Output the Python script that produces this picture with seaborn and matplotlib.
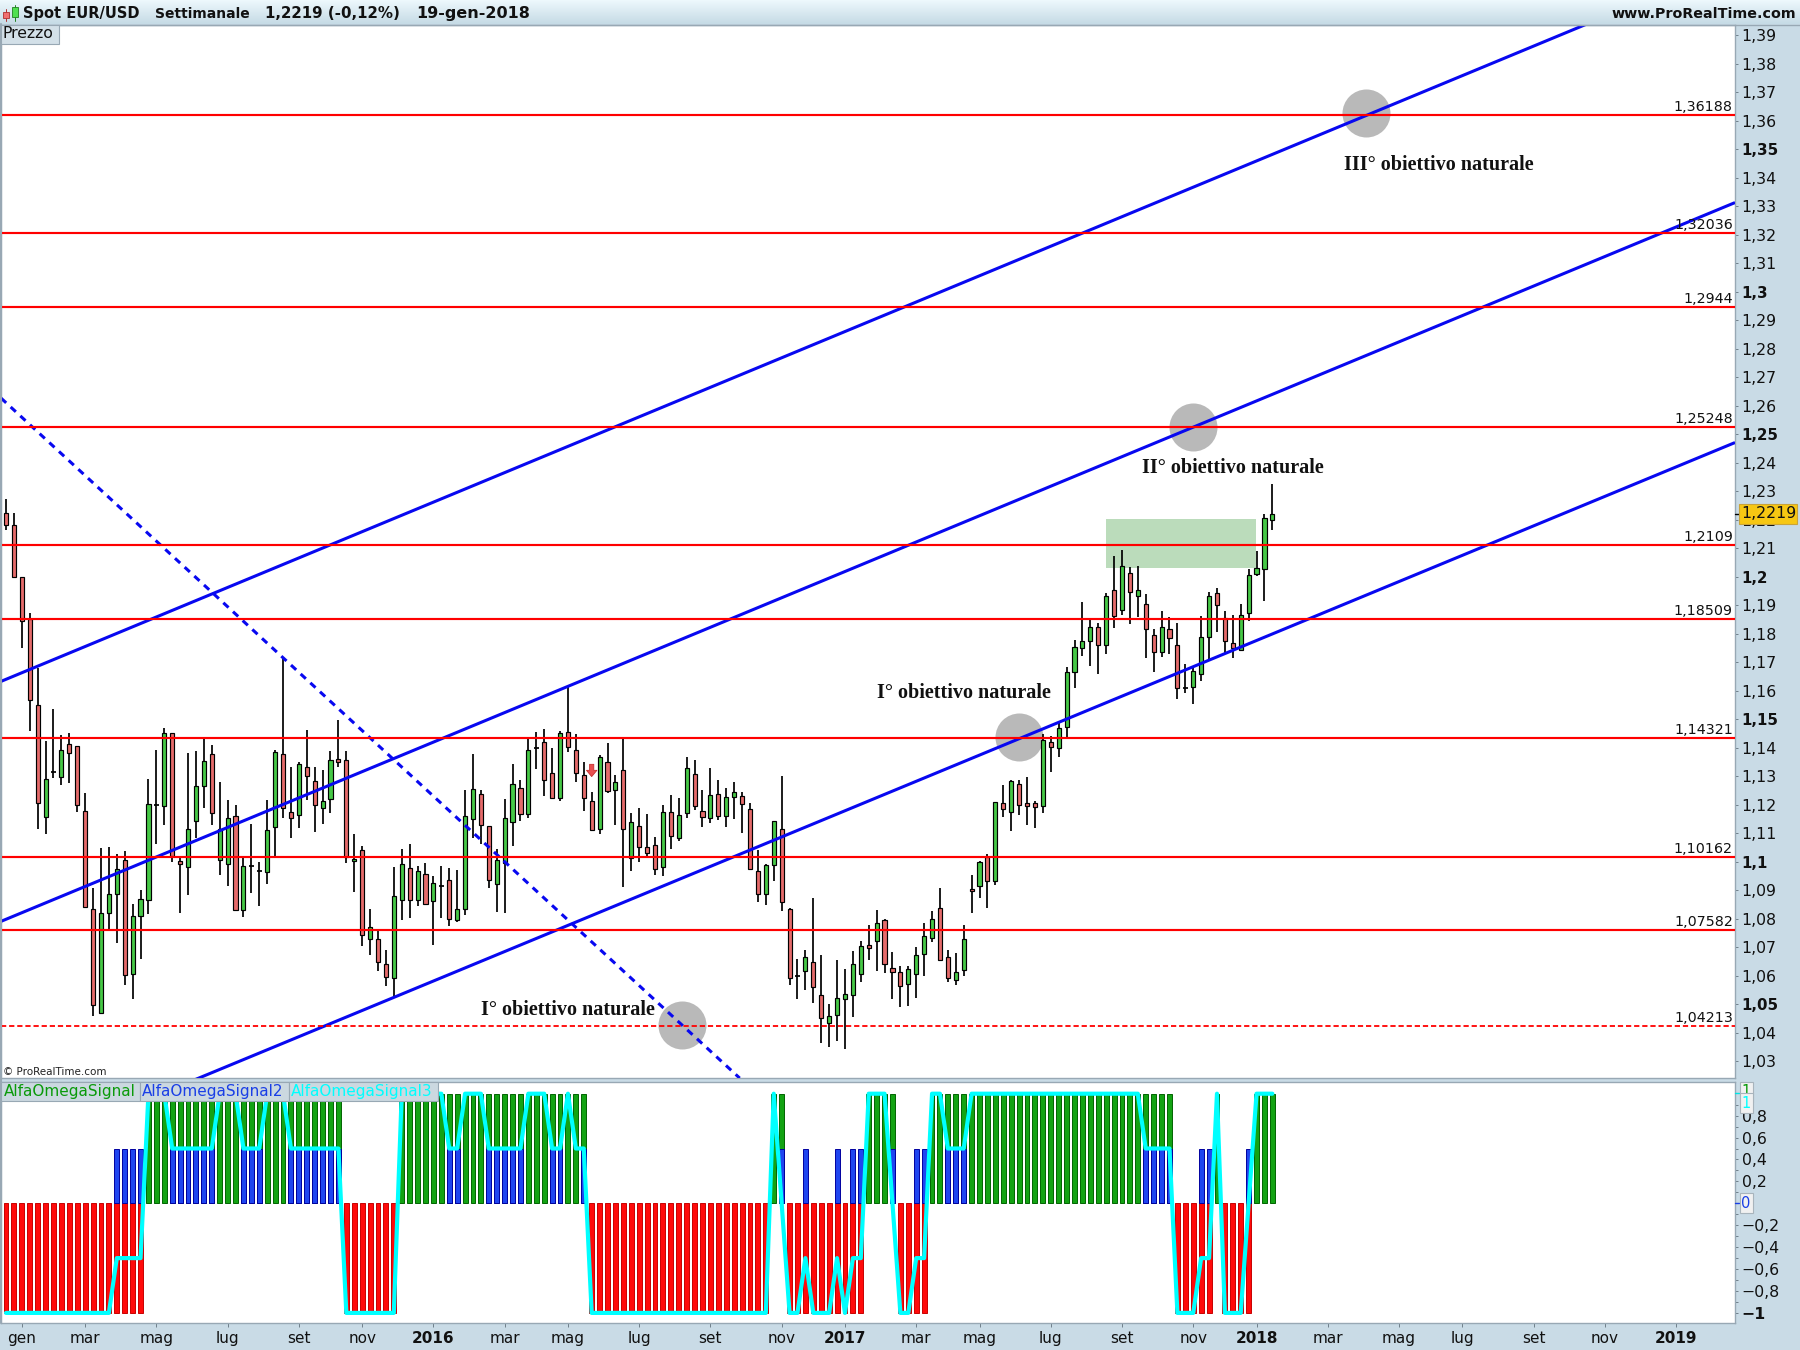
import numpy as np
import seaborn as sns
import matplotlib.pyplot as plt
from matplotlib.patches import Rectangle

# weekly candles
opens = [1.2222,1.2180,1.1999,1.1851,1.1548,1.1155,1.1315,1.1295,1.1411,1.1404,1.1176,1.0832,1.0470,1.0818,1.0885,1.1004,1.0604,1.0808,1.0864,1.1198,
         1.1196,1.1450,1.1001,1.0980,1.1141,1.1264,1.1376,1.1004,1.0990,1.1159,1.0829,1.0985,1.0968,1.0962,1.1120,1.1376,1.1173,1.1162,1.1330,1.1281,
         1.1187,1.1218,1.1358,1.1355,1.1001,1.1039,1.0727,1.0727,1.0639,1.0590,1.0866,1.0976,1.0866,1.0955,1.0860,1.0915,1.0934,1.0794,1.0832,1.1148,
         1.1236,1.1123,1.0920,1.0994,1.1137,1.1257,1.1166,1.1399,1.1418,1.1309,1.1222,1.1453,1.1390,1.1302,1.1211,1.1113,1.1348,1.1250,1.1320,1.1011,
         1.1123,1.1050,1.1057,1.0980,1.1173,1.1081,1.1169,1.1306,1.1176,1.1151,1.1236,1.1158,1.1225,1.1229,1.1183,1.0966,1.0885,1.0987,1.1113,1.0832,
         1.0599,1.0615,1.0646,1.0530,1.0432,1.0460,1.0516,1.0530,1.0604,1.0706,1.0720,1.0794,1.0625,1.0611,1.0569,1.0604,1.0674,1.0733,1.0836,1.0664,
         1.0583,1.0618,1.0902,1.0913,1.1015,1.0930,1.1204,1.1173,1.1271,1.1204,1.1204,1.1196,1.1418,1.1397,1.1471,1.1664,1.1748,1.1772,1.1822,1.1758,
         1.1952,1.1881,1.2011,1.1930,1.1902,1.1794,1.1734,1.1815,1.1758,1.1610,1.1611,1.1657,1.1787,1.1941,1.1853,1.1765,1.1741,1.1871,1.2008,1.2025,1.2197]
highs = [1.2272,1.2222,1.1999,1.1871,1.1678,1.1422,1.1534,1.1443,1.1450,1.1404,1.1239,1.0906,1.1046,1.1050,1.1025,1.1036,1.0850,1.0899,1.1288,1.1390,
         1.1467,1.1450,1.1011,1.1380,1.1387,1.1429,1.1408,1.1278,1.1215,1.1197,1.1011,1.1130,1.0997,1.1215,1.1390,1.1713,1.1330,1.1348,1.1460,1.1330,
         1.1320,1.1387,1.1495,1.1387,1.1095,1.1053,1.0832,1.0757,1.0688,1.0980,1.1043,1.1060,1.0983,1.0994,1.0948,1.0984,1.0976,1.0970,1.1250,1.1376,
         1.1250,1.1123,1.1043,1.1218,1.1341,1.1285,1.1432,1.1453,1.1464,1.1397,1.1458,1.1611,1.1446,1.1348,1.1243,1.1373,1.1415,1.1302,1.1432,1.1169,
         1.1187,1.1166,1.1085,1.1197,1.1232,1.1222,1.1366,1.1355,1.1250,1.1327,1.1285,1.1257,1.1278,1.1243,1.1204,1.1039,1.0990,1.1141,1.1299,1.0838,
         1.0657,1.0690,1.0871,1.0671,1.0499,1.0653,1.0622,1.0685,1.0720,1.0776,1.0829,1.0797,1.0681,1.0632,1.0632,1.0699,1.0783,1.0825,1.0906,1.0690,
         1.0678,1.0776,1.0951,1.1001,1.1025,1.1210,1.1267,1.1285,1.1285,1.1295,1.1211,1.1447,1.1439,1.1485,1.1681,1.1776,1.1909,1.1846,1.1836,1.1941,
         1.2071,1.2092,1.2032,1.2036,1.1937,1.1815,1.1878,1.1857,1.1836,1.1692,1.1678,1.1860,1.1944,1.1958,1.1878,1.1864,1.1902,1.2025,1.2088,1.2218,1.2323]
lows = [1.2163,1.1999,1.1750,1.1459,1.1113,1.1098,1.1292,1.1270,1.1277,1.1175,1.0839,1.0459,1.0465,1.0763,1.0713,1.0567,1.0519,1.0659,1.0816,1.1063,
        1.1129,1.0999,1.0818,1.0884,1.1084,1.1189,1.1129,1.0953,1.0914,1.0829,1.0806,1.0891,1.0845,1.0922,1.1019,1.1153,1.1084,1.1119,1.1215,1.1105,
        1.1133,1.1171,1.1333,1.0996,1.0894,1.0705,1.0673,1.0617,1.0564,1.0526,1.0795,1.0803,1.0845,1.0846,1.0708,1.0802,1.0774,1.0787,1.0812,1.1084,
        1.1061,1.0908,1.0824,1.0820,1.1056,1.1143,1.1151,1.1326,1.1231,1.1218,1.1213,1.1385,1.1280,1.1178,1.1111,1.1098,1.1242,1.1129,1.0912,1.0968,
        1.0999,1.1017,1.0954,1.0950,1.1045,1.1071,1.1151,1.1180,1.1122,1.1136,1.1147,1.1122,1.1150,1.1101,1.0969,1.0859,1.0847,1.0933,1.0828,1.0568,
        1.0516,1.0549,1.0505,1.0364,1.0350,1.0371,1.0341,1.0453,1.0578,1.0654,1.0617,1.0608,1.0519,1.0491,1.0494,1.0522,1.0599,1.0719,1.0650,1.0578,
        1.0568,1.0599,1.0820,1.0873,1.0838,1.0919,1.1157,1.1108,1.1164,1.1129,1.1119,1.1171,1.1313,1.1368,1.1436,1.1610,1.1722,1.1687,1.1659,1.1729,
        1.1820,1.1866,1.1835,1.1859,1.1715,1.1666,1.1719,1.1729,1.1571,1.1592,1.1554,1.1635,1.1709,1.1806,1.1729,1.1715,1.1738,1.1845,1.2001,1.1915,1.2164]
closes = [1.2180,1.1999,1.1843,1.1566,1.1204,1.1288,1.1315,1.1390,1.1380,1.1197,1.0842,1.0495,1.0818,1.0885,1.0975,1.0603,1.0808,1.0867,1.1201,1.1198,
          1.1450,1.1021,1.0990,1.1113,1.1264,1.1351,1.1169,1.1113,1.1151,1.0829,1.0983,1.0985,1.0968,1.1109,1.1383,1.1187,1.1151,1.1341,1.1299,1.1197,
          1.1211,1.1355,1.1348,1.1016,1.1008,1.0741,1.0771,1.0646,1.0594,1.0878,1.0990,1.0866,1.0966,1.0852,1.0923,1.0915,1.0797,1.0832,1.1159,1.1253,
          1.1127,1.0934,1.1004,1.1151,1.1271,1.1166,1.1390,1.1399,1.1285,1.1222,1.1450,1.1403,1.1309,1.1222,1.1112,1.1366,1.1249,1.1278,1.1113,1.1137,
          1.1050,1.1031,1.0975,1.1173,1.1088,1.1162,1.1327,1.1194,1.1155,1.1232,1.1158,1.1225,1.1243,1.1201,1.0973,1.0885,1.0987,1.1141,1.0857,1.0590,
          1.0599,1.0666,1.0559,1.0450,1.0457,1.0520,1.0534,1.0639,1.0702,1.0695,1.0783,1.0639,1.0611,1.0562,1.0622,1.0671,1.0737,1.0797,1.0653,1.0590,
          1.0611,1.0727,1.0895,1.0997,1.0930,1.1208,1.1183,1.1281,1.1197,1.1196,1.1192,1.1425,1.1401,1.1467,1.1664,1.1751,1.1772,1.1822,1.1758,1.1930,
          1.1860,1.2036,1.1944,1.1952,1.1815,1.1734,1.1822,1.1783,1.1608,1.1610,1.1667,1.1787,1.1930,1.1899,1.1772,1.1748,1.1864,1.2004,1.2029,1.2204,1.2218]

# indicator panel, ten weeks per row
signal1 = [-1,-1,-1,-1,-1,-1,-1,-1,-1,-1,
           -1,-1,-1,-1,-1,-1,-1,-1,1,1,
           1,1,1,1,1,1,1,1,1,1,
           1,1,1,1,1,1,1,1,1,1,
           1,1,1,-1,-1,-1,-1,-1,-1,-1,
           1,1,1,1,1,1,1,1,1,1,
           1,1,1,1,1,1,1,1,1,1,
           1,1,1,1,-1,-1,-1,-1,-1,-1,
           -1,-1,-1,-1,-1,-1,-1,-1,-1,-1,
           -1,-1,-1,-1,-1,-1,-1,1,1,-1,
           -1,-1,-1,-1,-1,-1,-1,-1,-1,1,
           1,1,1,-1,-1,-1,-1,1,1,1,
           1,1,1,1,1,1,1,1,1,1,
           1,1,1,1,1,1,1,1,1,1,
           1,1,1,1,1,1,1,1,-1,-1,
           -1,-1,-1,1,-1,-1,-1,-1,1,1,
           1]
signal2_weeks = [14,15,16,17,21,22,23,24,25,26,30,31,32,36,37,38,39,40,41,42,56,57,61,62,63,64,65,69,70,73,98,
                 101,105,107,108,112,115,116,119,120,121,144,145,146,147,151,152,157]
signal3 = [-1,-1,-1,-1,-1,-1,-1,-1,-1,-1,
           -1,-1,-1,-1,-.5,-.5,-.5,-.5,1,1,
           1,.5,.5,.5,.5,.5,.5,1,1,1,
           .5,.5,.5,1,1,1,.5,.5,.5,.5,
           .5,.5,.5,-1,-1,-1,-1,-1,-1,-1,
           1,1,1,1,1,1,.5,.5,1,1,
           1,.5,.5,.5,.5,.5,1,1,1,.5,
           .5,1,.5,.5,-1,-1,-1,-1,-1,-1,
           -1,-1,-1,-1,-1,-1,-1,-1,-1,-1,
           -1,-1,-1,-1,-1,-1,-1,1,0,-1,
           -1,-.5,-1,-1,-1,-.5,-1,-.5,-.5,1,
           1,1,0,-1,-1,-.5,-.5,1,1,.5,
           .5,.5,1,1,1,1,1,1,1,1,
           1,1,1,1,1,1,1,1,1,1,
           1,1,1,1,.5,.5,.5,.5,-1,-1,
           -1,-.5,-.5,1,-1,-1,-1,0,1,1,
           1]

# price levels
levels = [1.36188, 1.32036, 1.2944, 1.25248, 1.2109, 1.18509, 1.14321, 1.10162, 1.07582]
level_labels = ['1,36188', '1,32036', '1,2944', '1,25248', '1,2109', '1,18509', '1,14321', '1,10162', '1,07582']
dashed_level = 1.04213
dashed_label = '1,04213'

# trend lines, (start, end) in weeks and price
x_span = [-0.63, 218.45]
upper_line = [1.1632, 1.4154]
middle_line = [1.0790, 1.3312]
lower_line = [0.9953, 1.2470]
down_line_x = [-0.63, 92.7]
down_line = [1.2626, 1.0240]

zone_x = [139, 157.9]
zone_y = [1.2031, 1.2202]
circle_x = [128, 150, 171.8, 85.4]
circle_y = [1.1437, 1.2525, 1.3626, 1.0426]

notes = ['III° obiettivo naturale', 'II° obiettivo naturale', 'I° obiettivo naturale', 'I° obiettivo naturale']
note_x = [169, 143.5, 110, 60]
note_y = [1.3444, 1.2381, 1.1591, 1.0479]

price_ticks = [round(1.03 + 0.01 * k, 2) for k in range(37)]
bold_prices = [1.05, 1.1, 1.15, 1.2, 1.25, 1.3, 1.35]
ind_ticks = [0.8, 0.6, 0.4, 0.2, -0.2, -0.4, -0.6, -0.8, -1]
ind_labels = ['0,8', '0,6', '0,4', '0,2', '\u22120,2', '\u22120,4', '\u22120,6', '\u22120,8', '\u22121']
ind_minor = [0.9, 0.7, 0.5, 0.3, 0.1, -0.1, -0.3, -0.5, -0.7, -0.9]

month_weeks = [2, 10, 19, 28, 37, 45, 54, 63, 71, 80, 89, 98, 106, 115, 123, 132, 141, 150, 158,
               167, 176, 184, 193, 202, 211]
month_labels = ['gen', 'mar', 'mag', 'lug', 'set', 'nov', '2016', 'mar', 'mag', 'lug', 'set', 'nov', '2017',
                'mar', 'mag', 'lug', 'set', 'nov', '2018', 'mar', 'mag', 'lug', 'set', 'nov', '2019']

strip = '#c9dbe6'
edge = '#98a8b4'

sns.set_theme(style='white', font='DejaVu Sans')
fig = plt.figure(figsize=(18, 13.5), dpi=100, facecolor=strip)

W, H = 1800, 1350
ax = fig.add_axes([1 / W, (H - 1078) / H, 1734 / W, 1053 / H])
ind = fig.add_axes([1 / W, (H - 1323) / H, 1734 / W, 241.3 / H])
weeks = np.arange(len(opens))

# price panel
ax.set_facecolor('white')
ax.add_patch(Rectangle((zone_x[0], zone_y[0]), zone_x[1] - zone_x[0], zone_y[1] - zone_y[0],
                       color='#bbdcbb', lw=0, zorder=1))
ax.scatter(circle_x, circle_y, s=1195, color='#b9b9b9', lw=0, zorder=1.5)

ax.vlines(weeks, lows, highs, color='black', lw=1.25, zorder=2)
for i in weeks:
    if opens[i] == closes[i]:
        ax.hlines(opens[i], i - 0.33, i + 0.33, color='black', lw=1.25, zorder=2.1)
    else:
        ax.bar(i, abs(closes[i] - opens[i]), bottom=min(opens[i], closes[i]), width=0.52,
               color='#46c846' if closes[i] > opens[i] else '#e56b6b',
               edgecolor='black', linewidth=0.85, zorder=2.2)

for line in (upper_line, middle_line, lower_line):
    ax.plot(x_span, line, color='#0808f0', lw=2.2, zorder=3, solid_capstyle='butt')
ax.plot(down_line_x, down_line, color='#0808f0', lw=2.2, ls=(0, (2.3, 2.0)), zorder=3)

for lev, lab in zip(levels, level_labels):
    ax.axhline(lev, color='#ff0000', lw=1.55, zorder=4)
    ax.annotate(lab, xy=(1, lev), xycoords=ax.get_yaxis_transform(), xytext=(-1.5, 0.8),
                textcoords='offset points', ha='right', va='bottom', fontsize=10.3, color='#111111', zorder=6)
ax.axhline(dashed_level, color='#ff0000', lw=1.3, ls=(0, (2.9, 1.6)), zorder=4)
ax.annotate(dashed_label, xy=(1, dashed_level), xycoords=ax.get_yaxis_transform(), xytext=(-1.5, 0.8),
            textcoords='offset points', ha='right', va='bottom', fontsize=10.3, color='#111111', zorder=6)

for t, nx, ny in zip(notes, note_x, note_y):
    ax.text(nx, ny, t, family='Liberation Serif', weight='bold', fontsize=14.5, color='#111111',
            ha='left', va='center', zorder=7)

ax.annotate('', xy=(74, 1.1298), xytext=(74, 1.1341),
            arrowprops=dict(width=3, headwidth=7.5, headlength=4.5, shrink=0, fc='#e85050', ec='#c83030', lw=0.6),
            zorder=5)

ax.set_xlim(-0.63, 218.45)
ax.set_ylim(1.02404, 1.39351)
ax.set_xticks([])
ax.yaxis.tick_right()
ax.set_yticks(price_ticks)
ax.set_yticklabels([('%g' % p).replace('.', ',') for p in price_ticks])
ax.tick_params(axis='y', length=2.5, width=0.7, color='#6f7f8a', pad=2.2, labelsize=11.3, labelcolor='#111111', right=True)
for p, lab in zip(price_ticks, ax.get_yticklabels()):
    if p in bold_prices:
        lab.set_fontweight('bold')
        lab.set_fontsize(10.8)
for s in ax.spines.values():
    s.set_color(edge)
    s.set_linewidth(1)

# indicator panel, bars then cyan line
red_weeks = [i for i in weeks if signal1[i] < 0]
green_weeks = [i for i in weeks if signal1[i] > 0]
sns.barplot(x=red_weeks, y=[-1] * len(red_weeks), native_scale=True, color='#ff0a0a', saturation=1, width=0.62,
            edgecolor='#c80000', linewidth=0.7, errorbar=None, ax=ind)
sns.barplot(x=green_weeks, y=[1] * len(green_weeks), native_scale=True, color='#13a313', saturation=1, width=0.62,
            edgecolor='#006400', linewidth=0.7, errorbar=None, ax=ind)
sns.barplot(x=signal2_weeks, y=[0.5] * len(signal2_weeks), native_scale=True, color='#1f45f0', saturation=1, width=0.62,
            edgecolor='#0000a0', linewidth=0.7, errorbar=None, ax=ind)
sns.lineplot(x=weeks, y=signal3, color='#00ffff', lw=3, estimator=None, sort=False, ax=ind, zorder=5)

ind.set_facecolor('white')
ind.set_xlim(-0.63, 218.45)
ind.set_ylim(-1.092, 1.1095)
ind.set_xlabel('')
ind.set_ylabel('')
ind.set_xticks(month_weeks)
ind.set_xticklabels(month_labels)
ind.tick_params(axis='x', length=3, width=0.7, color='#6f7f8a', pad=2.5, labelsize=11, labelcolor='#111111', bottom=True)
for lab in ind.get_xticklabels():
    if lab.get_text().isdigit():
        lab.set_fontweight('bold')
ind.yaxis.tick_right()
ind.set_yticks(ind_ticks)
ind.set_yticklabels(ind_labels)
ind.set_yticks(ind_minor, minor=True)
ind.tick_params(axis='y', which='both', length=2.5, width=0.7, color='#6f7f8a', pad=2.2, labelsize=11.3,
                labelcolor='#111111', right=True)
ind.get_yticklabels()[-1].set_fontweight('bold')
for s in ind.spines.values():
    s.set_color(edge)
    s.set_linewidth(1)

# chrome of the trading window, in pixel coordinates
top = fig.add_axes([0, 0, 1, 1], facecolor='none')
top.set_xlim(0, W)
top.set_ylim(H, 0)
top.axis('off')
grad = np.linspace(0, 1, 24).reshape(-1, 1)
top.imshow(grad, extent=(0, W, 24, 0), aspect='auto', cmap=sns.blend_palette(['#edf8fc', '#c6dbe6'], as_cmap=True), zorder=1)
top.set_xlim(0, W)
top.set_ylim(H, 0)
top.plot([0, W], [24.5, 24.5], color=edge, lw=1, zorder=2)
top.plot([0.5, 0.5], [24, 1323], color=edge, lw=1.5, zorder=2)

top.add_patch(Rectangle((3, 12), 6, 6, fc='#f07070', ec='#b03030', lw=0.6, zorder=3))
top.plot([6, 6], [9, 21], color='#b03030', lw=0.7, zorder=2.5)
top.add_patch(Rectangle((11.5, 7), 6.5, 10, fc='#50e050', ec='#208020', lw=0.6, zorder=3))
top.plot([14.7, 14.7], [5, 21], color='#208020', lw=0.7, zorder=2.5)

for tx, s, fs in zip([23, 155, 265, 416], ['Spot EUR/USD', 'Settimanale', '1,2219 (-0,12%)', '19-gen-2018'],
                     [10.5, 10, 10.8, 11.5]):
    top.text(tx, 13.5, s, fontsize=fs, weight='bold', color='#111111', ha='left', va='center', zorder=4)
top.text(1796, 13.5, 'www.ProRealTime.com', fontsize=10.3, weight='bold', color='#111111', ha='right', va='center', zorder=4)

top.add_patch(Rectangle((1, 24.5), 57.5, 19, fc='#d3e0e8', ec=edge, lw=0.8, zorder=3))
top.text(3, 34, 'Prezzo', fontsize=11.3, color='#111111', ha='left', va='center', zorder=4)
top.text(3, 1072, '\u00a9 ProRealTime.com', fontsize=7.5, color='#222222', ha='left', va='center', zorder=4)

for x0, x1, s, col in zip([1, 139.5, 288.5], [139.5, 288.5, 437.5],
                          ['AlfaOmegaSignal', 'AlfaOmegaSignal2', 'AlfaOmegaSignal3'],
                          ['#0a9a0a', '#1a3fe6', '#00ffff']):
    top.add_patch(Rectangle((x0, 1082), x1 - x0, 18.7, fc='#cbd8e0', ec=edge, lw=0.8, zorder=6))
    top.text(x0 + 2.5, 1091.5, s, fontsize=11, color=col, ha='left', va='center', zorder=7)

# value tags on the right scale
top.plot([1735, 1739], [514, 514], color='black', lw=1, zorder=3)
top.add_patch(Rectangle((1739, 503.5), 57.5, 20.5, fc='#f7c713', ec='#c9a43a', lw=0.8, zorder=6))
top.text(1741, 514, '1,2219', fontsize=11.3, color='#111111', ha='left', va='center', zorder=7)
top.plot([1735, 1739], [1093, 1093], color='#00e5e5', lw=1, zorder=3)
top.add_patch(Rectangle((1739.5, 1082), 13, 20, fc='#f1f1f1', ec='#a8b4bc', lw=0.8, zorder=6))
top.text(1746, 1091, '1', fontsize=10.5, color='#0a9a0a', ha='center', va='center', zorder=7)
top.add_patch(Rectangle((1739.5, 1093), 13, 20, fc='#f1f1f1', ec='#a8b4bc', lw=0.8, zorder=8))
top.text(1746, 1103, '1', fontsize=10.5, color='#00ffff', ha='center', va='center', zorder=9)
top.plot([1735, 1739], [1203, 1203], color='#1a3fe6', lw=1, zorder=3)
top.add_patch(Rectangle((1739.5, 1193), 13, 20, fc='#f1f1f1', ec='#a8b4bc', lw=0.8, zorder=6))
top.text(1746, 1203, '0', fontsize=10.5, color='#1a3fe6', ha='center', va='center', zorder=7)

fig.savefig('out.png', dpi=100, facecolor=fig.get_facecolor())
